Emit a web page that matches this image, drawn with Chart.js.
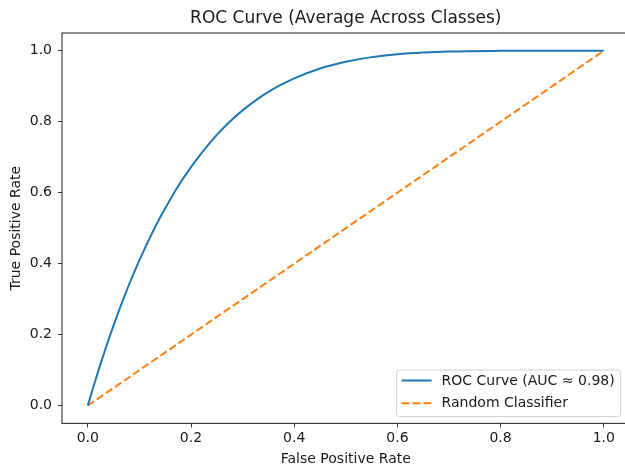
<!DOCTYPE html>
<html>
<head>
<meta charset="utf-8">
<script src="https://cdn.jsdelivr.net/npm/chart.js@4/dist/chart.umd.min.js"></script>
<style>
  html, body { margin: 0; padding: 0; background: #fff; overflow: hidden; }
  #wrap { width: 625px; height: 468px; overflow: hidden; position: relative; }
  canvas { display: block; }
</style>
</head>
<body>
<div id="wrap"><canvas id="c" width="640" height="468"></canvas></div>
<script>
// ---- data ----
const chartTitle = "ROC Curve (Average Across Classes)";
const xAxisLabel = "False Positive Rate";
const yAxisLabel = "True Positive Rate";
const rocLabel = "ROC Curve (AUC \u2248 0.98)";
const randomLabel = "Random Classifier";
const rocFpr = [0, 0.0125, 0.025, 0.0375, 0.05, 0.0625, 0.075, 0.0875, 0.1, 0.1125, 0.125, 0.1375, 0.15, 0.1625, 0.175, 0.1875, 0.2, 0.225, 0.25, 0.275, 0.3, 0.35, 0.4, 0.45, 0.5, 0.55, 0.6, 0.65, 0.7, 0.8, 0.9, 1.0];
const rocTpr = [0, 0.061, 0.119, 0.174, 0.226, 0.276, 0.323, 0.367, 0.41, 0.449, 0.487, 0.523, 0.556, 0.588, 0.618, 0.646, 0.672, 0.72, 0.763, 0.8, 0.832, 0.884, 0.922, 0.95, 0.969, 0.982, 0.99, 0.995, 0.998, 0.9997, 1.0, 1.0];
const randomFpr = [0, 1];
const randomTpr = [0, 1];
const tickValues = [0, 0.2, 0.4, 0.6, 0.8, 1.0];

const FONT = "'DejaVu Sans', 'Liberation Sans', sans-serif";
const TEXT = '#1a1a1a';

const toPts = (xs, ys) => xs.map((x, i) => ({ x: x, y: ys[i] }));

// centre the title over the plot area, like matplotlib
const titleAlignPlugin = {
  id: 'titleAlign',
  afterLayout(chart) {
    const t = chart.titleBlock, a = chart.chartArea;
    if (t && a) { t.left = a.left; t.right = a.right; t.width = a.right - a.left; }
  }
};

const framePlugin = {
  id: 'frame',
  afterDatasetsDraw(chart) {
    const a = chart.chartArea, ctx = chart.ctx;
    ctx.save();
    ctx.strokeStyle = '#333';
    ctx.lineWidth = 1.1;
    ctx.strokeRect(a.left, a.top, a.right - a.left, a.bottom - a.top);
    ctx.restore();
  }
};

const legendPlugin = {
  id: 'boxLegend',
  afterDraw(chart) {
    const a = chart.chartArea, ctx = chart.ctx;
    const w = 224, h = 46.7;
    const left = a.right - 233, top = a.bottom - 53.4;
    ctx.save();
    ctx.beginPath();
    if (ctx.roundRect) ctx.roundRect(left, top, w, h, 3); else ctx.rect(left, top, w, h);
    ctx.fillStyle = 'rgba(255,255,255,0.8)';
    ctx.fill();
    ctx.strokeStyle = '#d0d0d0';
    ctx.lineWidth = 1;
    ctx.stroke();
    chart.data.datasets.forEach((ds, i) => {
      const y = top + 10.5 + i * 22.7;
      ctx.beginPath();
      ctx.setLineDash(ds.borderDash || []);
      ctx.strokeStyle = ds.borderColor;
      ctx.lineWidth = ds.borderWidth;
      ctx.moveTo(left + 5, y);
      ctx.lineTo(left + 35, y);
      ctx.stroke();
      ctx.setLineDash([]);
      ctx.fillStyle = TEXT;
      ctx.font = '14px ' + FONT;
      ctx.textBaseline = 'middle';
      ctx.textAlign = 'left';
      ctx.fillText(ds.label, left + 45, y + 0.5);
    });
    ctx.restore();
  }
};

new Chart(document.getElementById('c'), {
  type: 'line',
  data: {
    datasets: [
      {
        label: rocLabel,
        data: toPts(rocFpr, rocTpr),
        borderColor: '#1f77b4',
        borderWidth: 2,
        pointRadius: 0,
        cubicInterpolationMode: 'monotone',
        fill: false
      },
      {
        label: randomLabel,
        data: toPts(randomFpr, randomTpr),
        borderColor: '#ff7f0e',
        borderWidth: 2,
        borderDash: [7.7, 3.3],
        pointRadius: 0,
        fill: false
      }
    ]
  },
  options: {
    responsive: false,
    animation: false,
    layout: { padding: { left: 0, right: 10.4, top: 0, bottom: 0 } },
    plugins: {
      legend: { display: false },
      tooltip: { enabled: false },
      title: {
        display: true,
        text: chartTitle,
        color: TEXT,
        font: { family: FONT, size: 17, weight: 'normal' },
        padding: { top: 8.8, bottom: 3.8 }
      }
    },
    scales: {
      x: {
        type: 'linear',
        min: -0.05,
        max: 1.05,
        afterFit(s) { s.height = 44.6; },
        afterBuildTicks(s) { s.ticks = tickValues.map(v => ({ value: v })); },
        ticks: {
          includeBounds: false,
          color: TEXT,
          font: { family: FONT, size: 14 },
          padding: 3,
          maxRotation: 0,
          callback: v => Number(v).toFixed(1)
        },
        grid: { drawOnChartArea: false, drawTicks: true, tickLength: 4, color: '#333', lineWidth: 1 },
        border: { display: false },
        title: {
          display: true,
          text: xAxisLabel,
          color: TEXT,
          font: { family: FONT, size: 14 },
          padding: { top: 1.6, bottom: 0 }
        }
      },
      y: {
        type: 'linear',
        min: -0.05,
        max: 1.05,
        afterFit(s) { s.width = 62; },
        afterBuildTicks(s) { s.ticks = tickValues.map(v => ({ value: v })); },
        ticks: {
          includeBounds: false,
          color: TEXT,
          font: { family: FONT, size: 14 },
          padding: 6,
          callback: v => Number(v).toFixed(1)
        },
        grid: { drawOnChartArea: false, drawTicks: true, tickLength: 4, color: '#333', lineWidth: 1 },
        border: { display: false },
        title: {
          display: true,
          text: yAxisLabel,
          color: TEXT,
          font: { family: FONT, size: 14 },
          padding: { top: 7.6, bottom: 0 }
        }
      }
    }
  },
  plugins: [titleAlignPlugin, framePlugin, legendPlugin]
});
</script>
</body>
</html>
